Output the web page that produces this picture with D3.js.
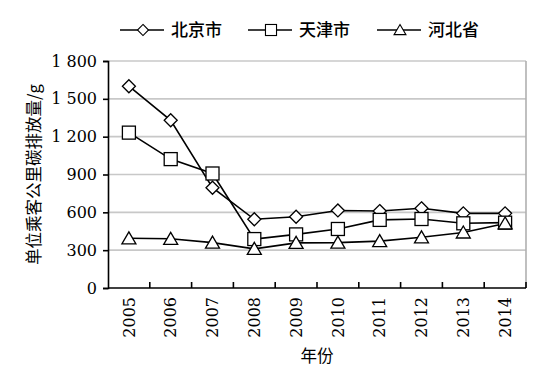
<!DOCTYPE html>
<html>
<head>
<meta charset="utf-8">
<script src="https://cdn.jsdelivr.net/npm/d3@7"></script>
<style>
  body { margin: 0; background: #fff; }
  text { fill: #000; }
</style>
</head>
<body>
<div id="chart"></div>
<script>
// data
var years = ["2005","2006","2007","2008","2009","2010","2011","2012","2013","2014"];
var beijing = [1600, 1330, 795, 545, 565, 615, 610, 632, 592, 592];
var tianjin = [1232, 1022, 908, 388, 425, 468, 540, 547, 513, 518];
var hebei = [394, 390, 360, 310, 358, 360, 372, 402, 440, 512];
var seriesNames = ["北京市", "天津市", "河北省"];
var markerTypes = ["diamond", "square", "triangle"];
var yTicks = [0, 300, 600, 900, 1200, 1500, 1800];

var w = 548, h = 371;
var m = {left: 108, right: 22, top: 61, bottom: 83};
var serif = "'DejaVu Serif', serif";
var cjk = "'Noto Sans CJK SC', sans-serif";

var svg = d3.select("#chart").append("svg").attr("width", w).attr("height", h);

var x = d3.scaleBand().domain(years).range([m.left, w - m.right]);
var y = d3.scaleLinear().domain([0, 1800]).range([h - m.bottom, m.top]);

//gridlines
svg.append("g").selectAll("line")
  .data(yTicks.filter(function(d){ return d > 0; }))
  .enter().append("line")
    .attr("x1", m.left).attr("x2", w - m.right)
    .attr("y1", function(d){ return y(d); })
    .attr("y2", function(d){ return y(d); })
    .style("stroke", "#c8c8c8").style("stroke-width", 1.6);

// right border in gray
svg.append("line")
  .attr("x1", w - m.right).attr("x2", w - m.right)
  .attr("y1", m.top).attr("y2", y(0))
  .style("stroke", "#b0b0b0").style("stroke-width", 1.6);

// y axis
var yAxis = svg.append("g")
  .attr("transform", "translate(" + m.left + ",0)")
  .call(d3.axisLeft(y).tickValues(yTicks).tickSize(5).tickPadding(6)
    .tickFormat(function(d){ return d3.format(",")(d).replace(",", " "); }));
yAxis.selectAll("text").style("font-family", serif).style("font-size", "16px");
yAxis.selectAll("line, path").style("stroke", "#000").style("stroke-width", 1.6);

// x axis, ticks at band edges pointing up
var xAxis = svg.append("g")
  .attr("transform", "translate(0," + y(0) + ")")
  .call(d3.axisBottom(x).tickSize(0).tickPadding(8));
xAxis.select("path").remove();
xAxis.selectAll("text")
  .style("font-family", serif).style("font-size", "16px")
  .attr("transform", "rotate(-90)")
  .attr("text-anchor", "end")
  .attr("x", -9).attr("y", 0).attr("dy", "0.35em");

svg.append("line")
  .attr("x1", m.left).attr("x2", w - m.right)
  .attr("y1", y(0)).attr("y2", y(0))
  .style("stroke", "#000").style("stroke-width", 1.6);

svg.append("g").selectAll("line")
  .data(years.slice(1).concat(["end"]))
  .enter().append("line")
    .attr("x1", function(d, i){ return x(years[i]) + x.bandwidth(); })
    .attr("x2", function(d, i){ return x(years[i]) + x.bandwidth(); })
    .attr("y1", y(0)).attr("y2", y(0) - 6)
    .style("stroke", "#000").style("stroke-width", 1.6);

// axis titles
svg.append("text")
  .attr("transform", "translate(40," + ((m.top + y(0)) / 2) + ") rotate(-90)")
  .attr("text-anchor", "middle")
  .style("font-family", cjk).style("font-size", "16.5px")
  .text("单位乘客公里碳排放量/g");

svg.append("text")
  .attr("x", (m.left + w - m.right) / 2).attr("y", 362)
  .attr("text-anchor", "middle")
  .style("font-family", cjk).style("font-size", "16.5px")
  .text("年份");

// markers
function marker(g, type) {
  if (type === "diamond") {
    g.append("path").attr("d", "M0,-6.5L6.5,0L0,6.5L-6.5,0Z");
  } else if (type === "square") {
    g.append("rect").attr("x", -6.5).attr("y", -6.5).attr("width", 13).attr("height", 13);
  } else {
    g.append("path").attr("d", "M0,-6.5L7,5.5L-7,5.5Z");
  }
  g.selectAll("*").style("fill", "#fff").style("stroke", "#000").style("stroke-width", 1.3);
}

var line = d3.line()
  .x(function(d, i){ return x(years[i]) + x.bandwidth() / 2; })
  .y(function(d){ return y(d); });

[beijing, tianjin, hebei].forEach(function(vals, si) {
  svg.append("path").datum(vals)
    .attr("d", line)
    .style("fill", "none").style("stroke", "#000").style("stroke-width", 1.6);
});
[beijing, tianjin, hebei].forEach(function(vals, si) {
  vals.forEach(function(v, i) {
    var g = svg.append("g")
      .attr("transform", "translate(" + (x(years[i]) + x.bandwidth() / 2) + "," + y(v) + ")");
    marker(g, markerTypes[si]);
  });
});

// legend
var legendX = [120, 248, 377];
seriesNames.forEach(function(name, i) {
  var lg = svg.append("g").attr("transform", "translate(" + legendX[i] + ",30)");
  lg.append("line").attr("x1", 0).attr("x2", 44).attr("y1", 0).attr("y2", 0)
    .style("stroke", "#000").style("stroke-width", 1.6);
  var mk = lg.append("g").attr("transform", "translate(23,0) scale(0.85)");
  marker(mk, markerTypes[i]);
  lg.append("text").attr("x", 51).attr("y", 0).attr("dy", "0.35em")
    .style("font-family", cjk).style("font-size", "17px").style("font-weight", 500)
    .text(name);
});
</script>
</body>
</html>
